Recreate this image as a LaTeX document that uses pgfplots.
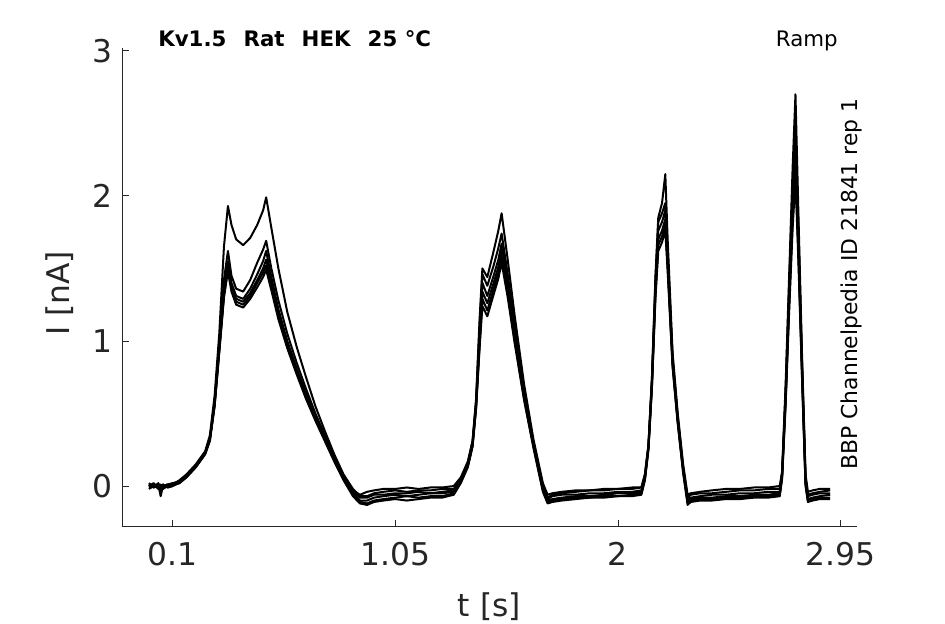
\documentclass[border=0pt]{standalone}
\usepackage{fontspec}
\setmainfont{DejaVu Sans}
\usepackage{pgfplots}
\pgfplotsset{compat=1.18}
\usepackage{pgfplotstable}
\definecolor{axgray}{gray}{0.15}

\pgfplotstableread{
t a b c d e f
0.000 0.01 0.00 -0.01 0.02 0.00 -0.02
0.020 -0.01 0.02 0.00 -0.01 0.01 0.00
0.040 0.02 -0.01 0.01 0.00 -0.02 0.01
0.050 -0.01 0.00 -0.03 0.01 0.00 -0.07
0.060 0.00 0.01 0.00 -0.02 0.01 0.00
0.080 0.01 -0.01 0.01 0.00 -0.01 0.01
0.100 0.01 0.00 0.02 0.00 0.00 0.01
0.130 0.04 0.03 0.03 0.02 0.03 0.02
0.160 0.08 0.07 0.07 0.06 0.07 0.06
0.200 0.15 0.14 0.14 0.13 0.14 0.13
0.240 0.24 0.23 0.23 0.22 0.23 0.22
0.260 0.35 0.33 0.33 0.32 0.32 0.31
0.280 0.62 0.58 0.57 0.56 0.55 0.55
0.300 1.05 0.98 0.96 0.94 0.93 0.92
0.320 1.65 1.42 1.36 1.33 1.31 1.30
0.337 1.93 1.62 1.55 1.52 1.50 1.48
0.352 1.80 1.45 1.40 1.38 1.36 1.34
0.372 1.70 1.36 1.31 1.29 1.27 1.25
0.402 1.66 1.34 1.29 1.27 1.25 1.23
0.432 1.71 1.42 1.36 1.33 1.31 1.29
0.462 1.80 1.54 1.46 1.42 1.40 1.37
0.487 1.90 1.63 1.55 1.50 1.47 1.44
0.500 1.99 1.69 1.62 1.56 1.52 1.49
0.522 1.78 1.50 1.44 1.40 1.37 1.35
0.552 1.50 1.28 1.22 1.19 1.17 1.15
0.590 1.20 1.05 1.00 0.98 0.96 0.95
0.630 0.96 0.85 0.81 0.79 0.78 0.77
0.670 0.75 0.67 0.64 0.62 0.61 0.60
0.710 0.55 0.50 0.48 0.47 0.46 0.45
0.750 0.38 0.35 0.34 0.33 0.32 0.31
0.790 0.22 0.20 0.19 0.18 0.18 0.17
0.830 0.08 0.07 0.06 0.05 0.05 0.04
0.870 -0.02 -0.03 -0.04 -0.05 -0.06 -0.07
0.900 -0.07 -0.06 -0.08 -0.10 -0.11 -0.12
0.930 -0.07 -0.04 -0.08 -0.10 -0.12 -0.13
0.960 -0.05 -0.03 -0.06 -0.08 -0.10 -0.11
1.000 -0.04 -0.02 -0.06 -0.07 -0.09 -0.10
1.050 -0.03 -0.02 -0.05 -0.06 -0.08 -0.09
1.100 -0.04 -0.01 -0.05 -0.07 -0.07 -0.10
1.150 -0.03 -0.02 -0.04 -0.06 -0.08 -0.09
1.200 -0.03 -0.01 -0.05 -0.05 -0.07 -0.08
1.250 -0.02 -0.01 -0.04 -0.05 -0.07 -0.08
1.300 -0.02 0.00 -0.03 -0.04 -0.05 -0.06
1.330 0.05 0.06 0.04 0.03 0.03 0.02
1.360 0.16 0.17 0.15 0.14 0.14 0.13
1.380 0.31 0.31 0.29 0.28 0.28 0.27
1.395 0.60 0.58 0.56 0.55 0.54 0.53
1.410 1.15 1.10 1.05 1.00 0.97 0.95
1.422 1.50 1.46 1.40 1.34 1.29 1.24
1.443 1.44 1.38 1.31 1.26 1.21 1.17
1.470 1.62 1.52 1.45 1.40 1.36 1.32
1.490 1.76 1.64 1.56 1.51 1.47 1.43
1.504 1.88 1.74 1.67 1.62 1.58 1.54
1.530 1.56 1.46 1.40 1.36 1.33 1.30
1.560 1.17 1.10 1.06 1.03 1.00 0.98
1.600 0.70 0.66 0.64 0.62 0.60 0.59
1.640 0.32 0.30 0.29 0.28 0.27 0.26
1.680 0.02 0.00 -0.01 -0.02 -0.03 -0.04
1.700 -0.06 -0.08 -0.09 -0.10 -0.11 -0.12
1.720 -0.05 -0.06 -0.07 -0.09 -0.10 -0.11
1.760 -0.04 -0.05 -0.06 -0.08 -0.09 -0.10
1.820 -0.03 -0.04 -0.06 -0.07 -0.08 -0.09
1.880 -0.03 -0.03 -0.05 -0.07 -0.08 -0.08
1.940 -0.02 -0.03 -0.05 -0.06 -0.07 -0.08
2.000 -0.02 -0.02 -0.04 -0.05 -0.07 -0.07
2.060 -0.01 -0.02 -0.04 -0.05 -0.06 -0.07
2.100 -0.01 -0.01 -0.03 -0.04 -0.05 -0.06
2.115 0.08 0.08 0.06 0.05 0.05 0.04
2.130 0.28 0.28 0.27 0.26 0.26 0.25
2.145 0.75 0.74 0.72 0.70 0.69 0.68
2.160 1.45 1.42 1.38 1.35 1.32 1.30
2.172 1.85 1.82 1.76 1.70 1.66 1.62
2.188 1.95 1.88 1.82 1.76 1.72 1.68
2.202 2.15 1.95 1.90 1.84 1.80 1.76
2.212 1.70 1.62 1.58 1.54 1.51 1.48
2.233 0.92 0.89 0.87 0.85 0.83 0.82
2.255 0.50 0.48 0.46 0.45 0.44 0.43
2.278 0.15 0.13 0.12 0.11 0.10 0.09
2.297 -0.06 -0.08 -0.09 -0.10 -0.11 -0.13
2.310 -0.05 -0.06 -0.08 -0.09 -0.10 -0.11
2.350 -0.04 -0.05 -0.07 -0.08 -0.09 -0.10
2.400 -0.03 -0.05 -0.06 -0.08 -0.09 -0.10
2.460 -0.02 -0.04 -0.06 -0.07 -0.08 -0.09
2.520 -0.02 -0.03 -0.05 -0.07 -0.08 -0.09
2.580 -0.01 -0.03 -0.05 -0.06 -0.07 -0.08
2.640 -0.01 -0.02 -0.04 -0.06 -0.07 -0.08
2.690 0.00 -0.02 -0.04 -0.05 -0.06 -0.07
2.700 0.10 0.09 0.08 0.07 0.06 0.05
2.715 0.70 0.66 0.62 0.60 0.58 0.56
2.730 1.45 1.38 1.32 1.28 1.24 1.20
2.745 2.20 2.08 1.98 1.90 1.84 1.78
2.757 2.70 2.52 2.40 2.30 2.22 2.12
2.770 1.85 1.75 1.68 1.62 1.57 1.52
2.785 0.90 0.86 0.82 0.79 0.76 0.74
2.800 0.08 0.06 0.04 0.02 0.01 0.00
2.810 -0.04 -0.06 -0.07 -0.09 -0.10 -0.11
2.830 -0.03 -0.05 -0.06 -0.08 -0.09 -0.10
2.860 -0.02 -0.04 -0.05 -0.07 -0.08 -0.09
2.905 -0.02 -0.03 -0.05 -0.06 -0.08 -0.09
}\traces

\begin{document}
\begin{tikzpicture}
\path[use as bounding box] (0,0) rectangle (708.75pt,468pt);
\begin{axis}[
  at={(91.7pt,73pt)}, anchor=south west,
  scale only axis, width=550.8pt, height=358.8pt,
  xmin=-0.1136, xmax=3.018, ymin=-0.28, ymax=3.017,
  axis x line*=bottom, axis y line*=left,
  axis line style={axgray, line width=0.6pt, -},
  xtick={0.1,1.05,2,2.95}, xticklabels={0.1,1.05,2,2.95},
  ytick={0,1,2,3}, yticklabels={0,1,2,3},
  tick align=inside, major tick length=5pt,
  tick style={axgray, line width=0.6pt},
  ticklabel style={font=\fontsize{23.5}{28}\selectfont, text=axgray},
  xticklabel style={yshift=-8pt},
  yticklabel style={xshift=-4pt},
  xlabel={t [s]}, ylabel={I [nA]},
  label style={font=\fontsize{23.5}{28}\selectfont, text=axgray},
  xlabel style={at={(axis description cs:0.5,0)}, anchor=base, yshift=-67.5pt},
  ylabel style={at={(axis description cs:0,0.5)}, anchor=center, yshift=46.7pt, xshift=-4.5pt},
]
\addplot[black, line width=1.5pt, line join=round, no markers] table[x=t,y=a]{\traces};
\addplot[black, line width=1.5pt, line join=round, no markers] table[x=t,y=b]{\traces};
\addplot[black, line width=1.5pt, line join=round, no markers] table[x=t,y=c]{\traces};
\addplot[black, line width=1.5pt, line join=round, no markers] table[x=t,y=d]{\traces};
\addplot[black, line width=1.5pt, line join=round, no markers] table[x=t,y=e]{\traces};
\addplot[black, line width=1.5pt, line join=round, no markers] table[x=t,y=f]{\traces};
\end{axis}
\node[anchor=base west, inner sep=0pt, font=\fontsize{16}{19}\selectfont\bfseries] at (118.5pt,433pt)
  {Kv1.5\hspace{0.8em}Rat\hspace{0.8em}HEK\hspace{0.8em}25 °C};
\node[anchor=base east, inner sep=0pt, font=\fontsize{16}{19}\selectfont] at (628.5pt,433pt) {Ramp};
\node[anchor=base, rotate=90, inner sep=0pt, font=\fontsize{16.4}{19}\selectfont] at (642.75pt,255pt)
  {BBP Channelpedia ID 21841 rep 1};
\end{tikzpicture}
\end{document}
